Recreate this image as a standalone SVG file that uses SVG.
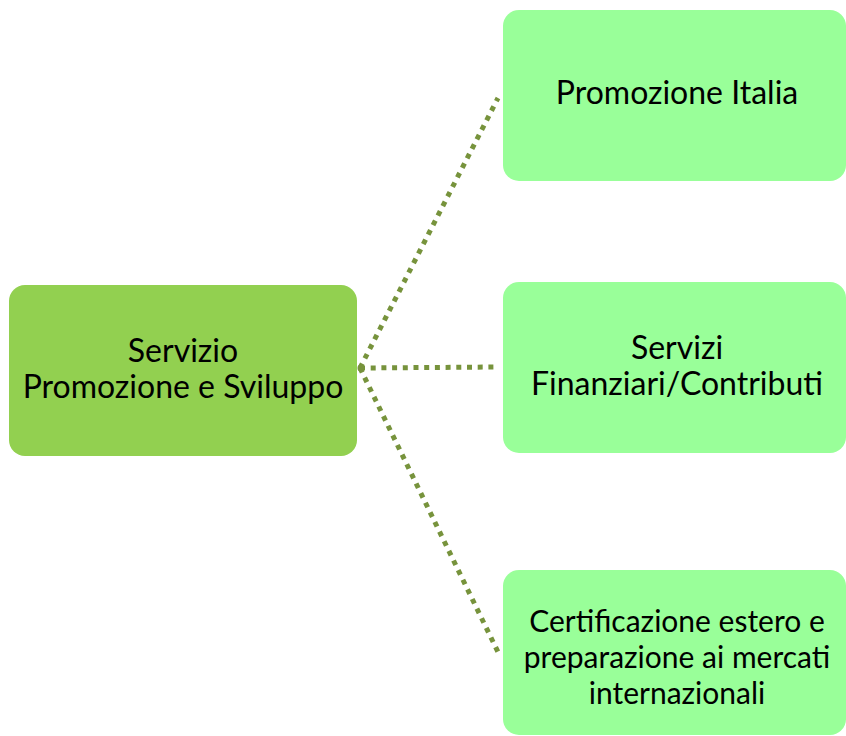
<svg xmlns="http://www.w3.org/2000/svg" width="846" height="736" viewBox="0 0 846 736">
<style>
.root{fill:#92D050}
.leaf{fill:#99FF99}
.t{font-family:Lato,"Open Sans","Liberation Sans",sans-serif;font-size:32px;fill:#000;text-anchor:middle}
.s{font-size:30px}
.c{stroke:#77933C;stroke-width:5;stroke-dasharray:5 5.7;fill:none}
</style>
<rect width="846" height="736" fill="#fff"/>
<g id="connectors">
<line class="c" x1="360" y1="368" x2="498" y2="98"/>
<line class="c" x1="360" y1="368" x2="498" y2="367"/>
<line class="c" x1="360" y1="368" x2="498" y2="652"/>
<circle cx="361" cy="368" r="3.5" fill="#77933C"/>
</g>
<g id="root">
<rect class="root" x="9" y="285" width="348" height="171" rx="16"/>
<text class="t" x="183" y="362">Servizio</text>
<text class="t" x="183" y="398">Promozione e Sviluppo</text>
</g>
<g id="n1">
<rect class="leaf" x="503" y="10" width="343" height="171" rx="16"/>
<text class="t" x="677" y="104">Promozione Italia</text>
</g>
<g id="n2">
<rect class="leaf" x="503" y="282" width="343" height="171" rx="16"/>
<text class="t" x="677" y="359">Servizi</text>
<text class="t" x="677" y="395">Finanziari/Contributi</text>
</g>
<g id="n3">
<rect class="leaf" x="503" y="570" width="343" height="165" rx="16"/>
<text class="t s" x="677" y="632">Certificazione estero e</text>
<text class="t s" x="677" y="668">preparazione ai mercati</text>
<text class="t s" x="677" y="704">internazionali</text>
</g>
</svg>
